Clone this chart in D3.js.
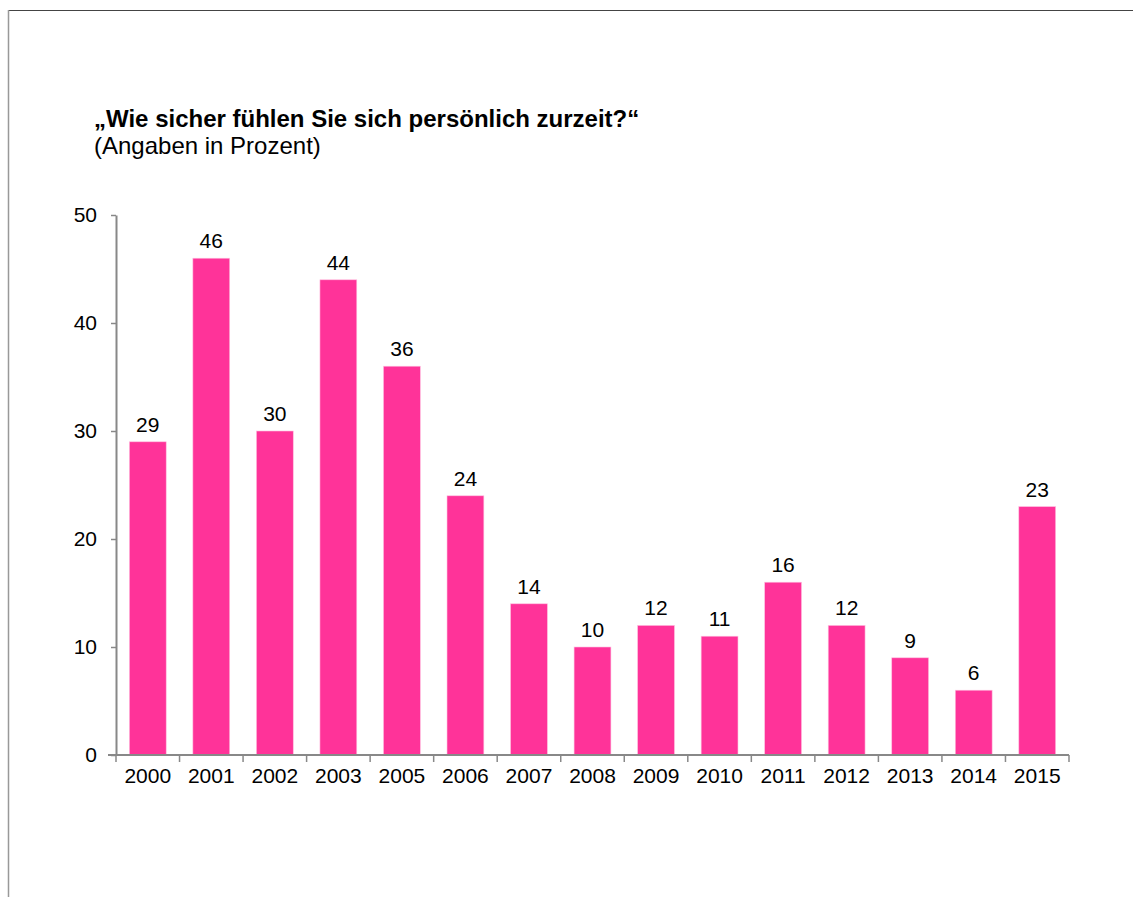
<!DOCTYPE html>
<html>
<head>
<meta charset="utf-8">
<script src="https://cdn.jsdelivr.net/npm/d3@7.9.0/dist/d3.min.js"></script>
<style>
  body { margin: 0; background: #fff; }
  svg { display: block; font-family: "Liberation Sans", Arial, sans-serif; }
</style>
</head>
<body>
<svg id="chart" width="1133" height="897"></svg>
<script>
// Data
const years = ["2000", "2001", "2002", "2003", "2005", "2006", "2007", "2008",
               "2009", "2010", "2011", "2012", "2013", "2014", "2015"];
const values = [29, 46, 30, 44, 36, 24, 14, 10, 12, 11, 16, 12, 9, 6, 23];
const yTicks = [0, 10, 20, 30, 40, 50];

const svg = d3.select("#chart");

// frame lines
svg.append("line").attr("x1", 8).attr("x2", 1133).attr("y1", 10.5).attr("y2", 10.5)
    .attr("stroke", "#444").attr("stroke-width", 1);
svg.append("line").attr("x1", 8.5).attr("x2", 8.5).attr("y1", 10).attr("y2", 897)
    .attr("stroke", "#999").attr("stroke-width", 1.5);

// titles
svg.append("text").attr("x", 94).attr("y", 127)
    .attr("font-size", 24).attr("font-weight", "bold").attr("fill", "#000")
    .text("„Wie sicher fühlen Sie sich persönlich zurzeit?“");
svg.append("text").attr("x", 94).attr("y", 154)
    .attr("font-size", 24).attr("fill", "#000")
    .text("(Angaben in Prozent)");

const plotLeft = 116, plotRight = 1069, plotTop = 215, plotBottom = 755;

const x = d3.scaleBand().domain(years).range([plotLeft, plotRight]).paddingInner(0.42).paddingOuter(0.21);
const xb = d3.scaleBand().domain(years).range([plotLeft, plotRight]);
const y = d3.scaleLinear().domain([0, 50]).range([plotBottom, plotTop]);

// bars
svg.append("g").selectAll("rect")
    .data(values)
    .enter()
    .append("rect")
    .attr("x", (d, i) => x(years[i]))
    .attr("y", d => y(d))
    .attr("width", x.bandwidth())
    .attr("height", d => plotBottom - y(d))
    .attr("fill", "#ff3399")
    .attr("stroke", "#ffc0e0")
    .attr("stroke-width", 0.6);

// value labels
svg.append("g").selectAll("text")
    .data(values)
    .enter()
    .append("text")
    .attr("x", (d, i) => x(years[i]) + x.bandwidth() / 2)
    .attr("y", d => y(d) - 10)
    .attr("text-anchor", "middle")
    .attr("font-size", 21)
    .attr("fill", "#000")
    .text(d => d);

// y axis
const yAxis = svg.append("g")
    .attr("transform", `translate(${plotLeft},0)`)
    .call(d3.axisLeft(y).tickValues(yTicks).tickSize(5).tickPadding(14).tickSizeOuter(0));
yAxis.select(".domain").attr("stroke", "#888").attr("stroke-width", 2);
yAxis.selectAll(".tick line").attr("stroke", "#888").attr("stroke-width", 1.5);
yAxis.selectAll(".tick text").attr("font-size", 21).attr("fill", "#000")
    .attr("font-family", "Liberation Sans, Arial, sans-serif");

// x axis
const xAxis = svg.append("g").attr("transform", `translate(0,${plotBottom})`);
xAxis.append("line").attr("x1", plotLeft - 8).attr("x2", plotRight).attr("y1", 0).attr("y2", 0)
    .attr("stroke", "#888").attr("stroke-width", 2);
const bounds = years.map(d => xb(d)).concat([plotRight]);
xAxis.selectAll(".xt")
    .data(bounds)
    .enter()
    .append("line")
    .attr("x1", d => d).attr("x2", d => d)
    .attr("y1", 0).attr("y2", 7)
    .attr("stroke", "#888").attr("stroke-width", 1.5);
xAxis.selectAll(".xl")
    .data(years)
    .enter()
    .append("text")
    .attr("x", d => xb(d) + xb.bandwidth() / 2)
    .attr("y", 28)
    .attr("text-anchor", "middle")
    .attr("font-size", 21)
    .attr("fill", "#000")
    .text(d => d);
</script>
</body>
</html>
